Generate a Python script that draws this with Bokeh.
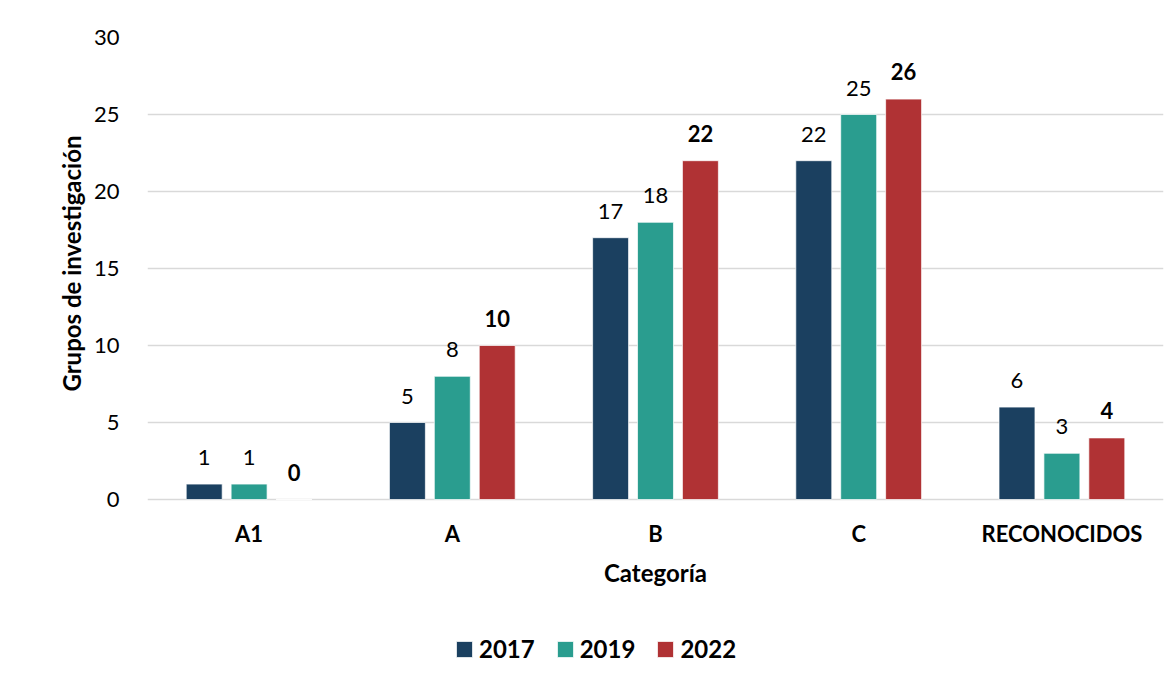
from bokeh.plotting import figure
from bokeh.models import (ColumnDataSource, FactorRange, Legend, LegendItem,
                          FixedTicker, LabelSet, Title)
from bokeh.core.properties import value
from bokeh.transform import dodge
from bokeh.embed import file_html
from bokeh.resources import INLINE

categories = ["A1", "A", "B", "C", "RECONOCIDOS"]
years = ["2017", "2019", "2022"]
v2017 = [1, 5, 17, 22, 6]
v2019 = [1, 8, 18, 25, 3]
v2022 = [0, 10, 22, 26, 4]
colors = ["#1B4060", "#2A9D8F", "#B03234"]
y_ticks = [0, 5, 10, 15, 20, 25, 30]
y_title = "Grupos de investigación"
x_title = "Categoría"

FONT = "Lato"

W, H = 1168, 686
TOP, BOTTOM_ZERO = 37, 499          # pixel rows of 30 and 0
PX_PER_UNIT = (BOTTOM_ZERO - TOP) / 30.0
Y_START = 30 - (H - TOP) / PX_PER_UNIT   # frame extends to the bottom of canvas

src = ColumnDataSource(dict(cat=categories, y2017=v2017, y2019=v2019, y2022=v2022,
                            t2017=[str(v) for v in v2017],
                            t2019=[str(v) for v in v2019],
                            t2022=[str(v) for v in v2022]))

p = figure(x_range=FactorRange(*categories, range_padding=0), y_range=(Y_START, 30),
           width=W, height=H, output_backend="svg", toolbar_location=None,
           min_border_left=147, min_border_right=5, min_border_top=TOP, min_border_bottom=0)

p.outline_line_color = None
p.background_fill_color = "white"
p.border_fill_color = "white"

offsets = [-0.221, 0.0, 0.221]
fields = ["y2017", "y2019", "y2022"]
tfields = ["t2017", "t2019", "t2022"]
renderers = []
for yr, off, f, tf, c in zip(years, offsets, fields, tfields, colors):
    r = p.vbar(x=dodge("cat", off, range=p.x_range), top=f, bottom=0, width=0.177, source=src,
               fill_color=c, line_color="white", line_alpha=0.7, line_width=1)
    renderers.append(r)
    lbl = LabelSet(x=dodge("cat", off, range=p.x_range), y=f, text=tf, source=src,
                   text_align="center", text_baseline="alphabetic", y_offset=19,
                   text_font=value(FONT), text_font_size=value("22px"),
                   text_color="#000000",
                   text_font_style="bold" if yr == "2022" else "normal")
    p.add_layout(lbl)

# axes
p.yaxis.ticker = FixedTicker(ticks=y_ticks)
p.yaxis.axis_line_color = None
p.yaxis.major_tick_line_color = None
p.yaxis.minor_tick_line_color = None
p.yaxis.major_label_text_font = FONT
p.yaxis.major_label_text_font_size = "22px"
p.yaxis.major_label_text_color = "#000000"
p.yaxis.major_label_standoff = 22

# y-axis title, aligned to the 0..30 part of the frame
p.add_layout(Title(text=y_title, align="right", offset=98, standoff=10,
                   text_font=FONT, text_font_size="24px", text_font_style="bold",
                   text_color="#000000"), "left")

p.xaxis.fixed_location = 0
p.xaxis.axis_line_color = None
p.xaxis.major_tick_line_color = None
p.xaxis.minor_tick_line_color = None
p.xaxis.major_label_text_font = FONT
p.xaxis.major_label_text_font_size = "22px"
p.xaxis.major_label_text_font_style = "bold"
p.xaxis.major_label_text_color = "#000000"
p.xaxis.major_label_standoff = 14
p.xaxis.axis_label = x_title
p.xaxis.axis_label_text_font = FONT
p.xaxis.axis_label_text_font_size = "24px"
p.xaxis.axis_label_text_font_style = "bold"
p.xaxis.axis_label_text_color = "#000000"
p.xaxis.axis_label_standoff = 8

p.xgrid.grid_line_color = None
p.ygrid.grid_line_color = "#D9D9D9"
p.ygrid.grid_line_width = 1.5
p.ygrid.ticker = FixedTicker(ticks=y_ticks)

legend = Legend(items=[LegendItem(label=yr, renderers=[r]) for yr, r in zip(years, renderers)],
                orientation="horizontal", location=(307, 23),
                glyph_width=20, glyph_height=20, label_standoff=5, spacing=20,
                padding=0, margin=0, border_line_color=None, background_fill_alpha=0,
                label_text_font=FONT, label_text_font_size="24px",
                label_text_font_style="bold", label_text_color="#000000")
p.add_layout(legend, "center")

open("out.html", "w").write(file_html(p, INLINE))
